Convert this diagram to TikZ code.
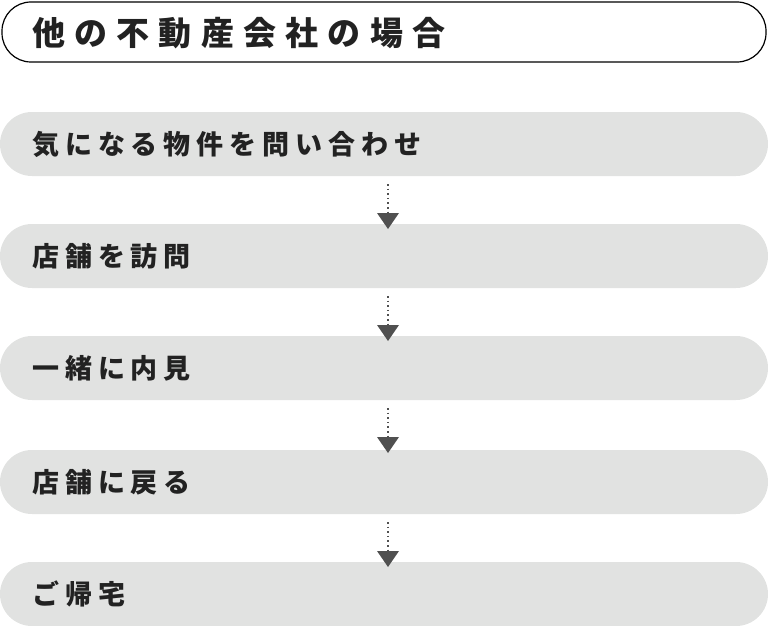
\documentclass[tikz,border=0pt]{standalone}
\usepackage{fontspec}
\newfontfamily\cjk{Noto Sans CJK JP}
\newfontfamily\cjkstep[LetterSpace=22]{Noto Sans CJK JP}
\newfontfamily\cjkhead[LetterSpace=28]{Noto Sans CJK JP}
\definecolor{pillgray}{HTML}{E1E2E1}
\definecolor{textgray}{HTML}{222222}
\definecolor{arrowgray}{HTML}{505050}
\begin{document}
\begin{tikzpicture}%
        [x=1pt,y=-1pt,
        title/.style={draw=black,line width=1.2pt,rounded corners=29pt,fill=white},
        pill/.style={fill=pillgray,rounded corners=32pt},
        label/.style={anchor=west,inner sep=0pt,text=textgray,font=\cjkstep\bfseries\fontsize{27}{27}\selectfont},
        flow/.style={arrowgray,line width=1.6pt,dash pattern=on 1.6pt off 3pt}]

    \useasboundingbox (0,0) rectangle (768,626);
    %% Title
    \draw[title] (2,2) rectangle (766,62);
    \node[label,font=\cjkhead\bfseries\fontsize{33}{33}\selectfont] (head) at (32,33) {他の不動産会社の場合};
    %% Steps
    \foreach \top/\name/\txt in {112/s1/気になる物件を問い合わせ,224/s2/店舗を訪問,336/s3/一緒に内見,450/s4/店舗に戻る,562/s5/ご帰宅}{
        \fill[pill] (0,\top) rectangle (768,\top+64);
        \node[label] (\name) at (32,\top+32) {\txt};
    }
    %% Arrows
    \foreach \top in {176,288,400,514}{
        \coordinate (from) at (388,\top+8);
        \coordinate (to) at (388,\top+36);
        \draw[flow] (from) -- (to);
        \fill[arrowgray] (377,\top+37) -- (399,\top+37) -- (388,\top+53) -- cycle;
    }
\end{tikzpicture}
\end{document}
